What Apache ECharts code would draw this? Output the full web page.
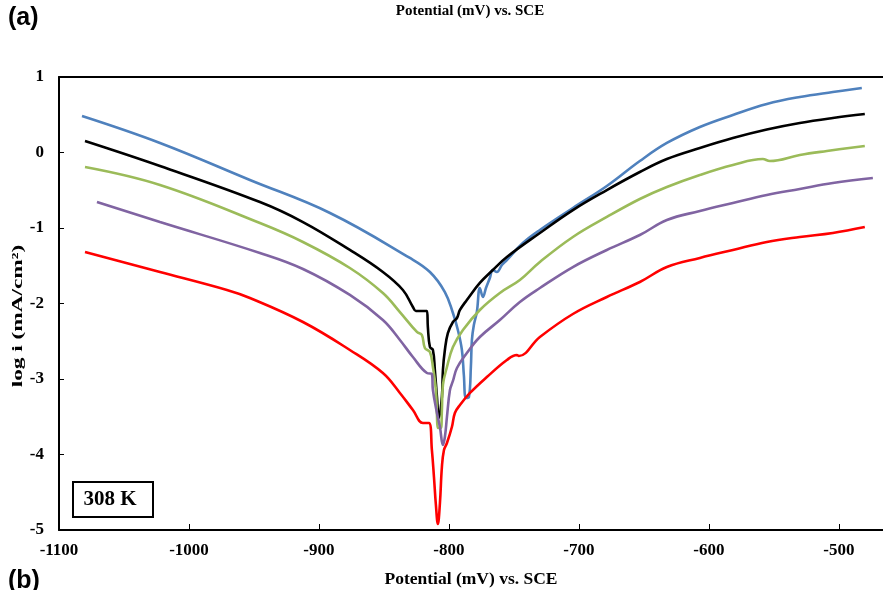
<!DOCTYPE html>
<html>
<head>
<meta charset="utf-8">
<script src="https://cdn.jsdelivr.net/npm/echarts@6/dist/echarts.min.js"></script>
<style>html,body{margin:0;padding:0;background:#fff}#c{width:883px;height:590px}</style>
</head>
<body>
<div id="c"></div>
<script>
// Tick labels / axis settings
const xMin = -1100, xMax = -466, xStep = 100;
const yMin = -5, yMax = 1, yStep = 1;

// Series data (Potential mV, log i)
const blueX = [-1082.3,-1022.3,-953.1,-891.5,-830,-814.6,-803.1,-796.9,-793.1,-790,-788.5,-786.9,-784.6,-783.1,-782.3,-780.8,-778.5,-776.2,-773.8,-771.5,-768.5,-766.2,-763.1,-759.2,-755.4,-743.1,-730,-704.6,-678.5,-653.1,-632.3,-606.9,-581.5,-555.4,-530,-504.6,-482.3];
const blueY = [0.483,0.126,-0.364,-0.801,-1.397,-1.583,-1.848,-2.126,-2.351,-2.616,-2.947,-3.252,-3.238,-2.841,-2.483,-2.285,-2.113,-1.795,-1.914,-1.795,-1.662,-1.556,-1.583,-1.490,-1.424,-1.199,-1.026,-0.735,-0.444,-0.113,0.126,0.338,0.497,0.642,0.735,0.801,0.854];

const blackX = [-1080,-1022.3,-945.4,-912.3,-876.2,-850.8,-835.4,-827.7,-825.4,-816.9,-816.2,-814.6,-812.3,-810.8,-809.2,-807.7,-805.4,-804.6,-803.1,-800.8,-796.9,-793.8,-791.5,-786.2,-776.2,-766.2,-755.4,-730,-704.6,-678.5,-653.1,-632.3,-606.9,-581.5,-555.4,-530,-504.6,-480];
const blackY = [0.152,-0.179,-0.656,-0.921,-1.291,-1.583,-1.821,-2.046,-2.099,-2.099,-2.311,-2.576,-2.616,-2.881,-3.238,-3.517,-3.238,-2.881,-2.616,-2.391,-2.245,-2.192,-2.086,-1.954,-1.728,-1.556,-1.384,-1.066,-0.762,-0.497,-0.258,-0.086,0.060,0.192,0.305,0.391,0.457,0.510];

const greenX = [-1080,-1022.3,-945.4,-912.3,-876.2,-850.8,-837.7,-824.6,-820.8,-818.5,-814.6,-812.3,-810,-809.2,-808.5,-806.2,-805.4,-804.6,-801.5,-796.9,-789.2,-776.2,-760.8,-745.4,-730,-704.6,-678.5,-653.1,-632.3,-606.9,-581.5,-558.5,-553.1,-530,-509.2,-480];
const greenY = [-0.192,-0.430,-0.934,-1.185,-1.530,-1.861,-2.113,-2.377,-2.417,-2.589,-2.642,-2.841,-3.146,-3.477,-3.649,-3.649,-3.411,-3.079,-2.841,-2.576,-2.351,-2.086,-1.861,-1.689,-1.450,-1.119,-0.854,-0.616,-0.457,-0.298,-0.166,-0.086,-0.113,-0.033,0.020,0.086];

const purpleX = [-1070.8,-1022.3,-945.4,-912.3,-876.2,-850.8,-837.7,-827.7,-816.9,-813.1,-812.3,-809.2,-806.9,-804.6,-803.1,-801.5,-799.2,-796.9,-793.8,-786.2,-776.2,-760.8,-745.4,-730,-704.6,-678.5,-653.1,-632.3,-606.9,-581.5,-555.4,-530,-504.6,-473.8];
const purpleY = [-0.656,-0.921,-1.331,-1.543,-1.887,-2.219,-2.483,-2.709,-2.921,-2.934,-3.146,-3.450,-3.636,-3.874,-3.768,-3.503,-3.146,-3.026,-2.854,-2.656,-2.444,-2.219,-1.980,-1.795,-1.517,-1.291,-1.093,-0.894,-0.775,-0.669,-0.563,-0.483,-0.404,-0.338];

const redX = [-1080,-1022.3,-970.8,-953.1,-912.3,-876.2,-850.8,-837.7,-827.7,-820,-815.4,-813.1,-811.5,-810,-808.5,-806.9,-805.4,-803.8,-801.5,-797.7,-795.4,-791.5,-783.8,-770.8,-755.4,-747.7,-746.2,-730,-704.6,-678.5,-653.1,-632.3,-606.9,-581.5,-555.4,-530,-504.6,-480];
const redY = [-1.318,-1.583,-1.821,-1.927,-2.245,-2.616,-2.921,-3.185,-3.411,-3.583,-3.583,-3.940,-4.298,-4.669,-4.921,-4.642,-4.166,-3.940,-3.848,-3.636,-3.450,-3.344,-3.185,-2.974,-2.748,-2.682,-2.695,-2.444,-2.139,-1.914,-1.715,-1.517,-1.397,-1.291,-1.185,-1.119,-1.066,-0.987];

const pair = (xs, ys) => xs.map((x, i) => [x, ys[i]]);
const serif = '"Liberation Serif", "Times New Roman", serif';

const chart = echarts.init(document.getElementById('c'), null, {renderer: 'canvas'});
const lineSeries = (name, xs, ys, color) => ({
  name, type: 'line', data: pair(xs, ys), showSymbol: false, symbol: 'none',
  lineStyle: {color, width: 2.6}, smooth: 0.4, animation: false, z: 3
});

chart.setOption({
  animation: false,
  grid: {left: 59, right: 0, top: 77, bottom: 60, containLabel: false, outerBoundsMode: 'none'},
  xAxis: [{
    type: 'value', min: xMin, max: xMax, interval: xStep,
    name: 'Potential (mV) vs. SCE', nameLocation: 'middle', nameGap: 40,
    nameTextStyle: {fontFamily: serif, fontWeight: 'bold', fontSize: 17.5, color: '#000', verticalAlign: 'top'},
    axisLine: {show: true, onZero: false, lineStyle: {color: '#000', width: 2}},
    axisTick: {show: true, inside: true, length: 6, lineStyle: {color: '#000', width: 1}},
    axisLabel: {fontFamily: serif, fontWeight: 'bold', fontSize: 17, color: '#000', margin: 12,
      formatter: v => (Math.abs(v % 100) < 1e-6 ? String(v) : '')},
    splitLine: {show: false}
  }, {
    type: 'value', min: xMin, max: xMax, position: 'top',
    axisLine: {show: true, onZero: false, lineStyle: {color: '#000', width: 2}},
    axisTick: {show: false}, axisLabel: {show: false}, splitLine: {show: false}
  }],
  yAxis: {
    type: 'value', min: yMin, max: yMax, interval: yStep,
    axisLine: {show: true, lineStyle: {color: '#000', width: 2}},
    axisTick: {show: true, inside: true, length: 5, lineStyle: {color: '#000', width: 1}},
    axisLabel: {fontFamily: serif, fontWeight: 'bold', fontSize: 17, color: '#000', margin: 15},
    splitLine: {show: false}
  },
  series: [
    lineSeries('blue', blueX, blueY, '#4F81BD'),
    lineSeries('black', blackX, blackY, '#000000'),
    lineSeries('green', greenX, greenY, '#9BBB59'),
    lineSeries('purple', purpleX, purpleY, '#8064A2'),
    lineSeries('red', redX, redY, '#FF0000')
  ],
  graphic: [
    {type: 'text', left: 8, top: 6, style: {text: '(a)', font: 'bold 25px "Liberation Sans", Arial, sans-serif', fill: '#000'}},
    {type: 'text', left: 8, top: 569, style: {text: '(b)', font: 'bold 25px "Liberation Sans", Arial, sans-serif', fill: '#000'}},
    {type: 'text', x: 470, y: 4, style: {text: 'Potential (mV) vs. SCE', font: 'bold 15px ' + serif, fill: '#000', align: 'center'}},
    {type: 'text', x: 18, y: 316, rotation: Math.PI / 2, scaleX: 1.55, scaleY: 1,
      style: {text: 'log i (mA/cm²)', font: 'bold 15px ' + serif, fill: '#000', align: 'center', verticalAlign: 'middle'}},
    {type: 'rect', shape: {x: 73, y: 482, width: 80, height: 35}, style: {fill: '#fff', stroke: '#000', lineWidth: 2}, z: 10},
    {type: 'text', x: 110, y: 500, style: {text: '308 K', font: 'bold 21px ' + serif, fill: '#000', align: 'center', verticalAlign: 'middle'}, z: 11}
  ]
});
</script>
</body>
</html>
